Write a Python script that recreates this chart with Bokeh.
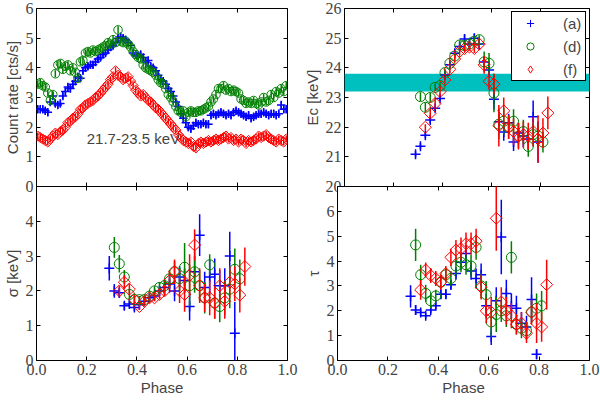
from bokeh.embed import file_html
from bokeh.layouts import column, row
from bokeh.models import (BoxAnnotation, CustomJSTickFormatter, FixedTicker, Label,
                          Legend, LegendItem, LinearAxis, PrintfTickFormatter)
from bokeh.plotting import figure
from bokeh.resources import INLINE

BLUE, GREEN, RED = "#0000ff", "#008000", "#ff0000"
SERIF = "Liberation Serif"
SANS = "Liberation Sans"

# ---- light curves (21.7-23.5 keV), 100 phase bins ----
cr_phase = [round(0.005 + 0.01 * i, 3) for i in range(100)]
cr_err = 0.12

cr_a = [2.6, 2.6, 2.6, 2.55, 2.5, 2.85, 3.05, 2.8, 2.75, 2.8,
        3.05, 3.2, 3.35, 3.3, 3.45, 3.55, 3.7, 3.65, 3.9, 4.0,
        4.05, 4.1, 4.1, 4.2, 4.3, 4.35, 4.45, 4.5, 4.6, 4.7,
        4.75, 4.85, 5.0, 5.05, 5.0, 4.95, 4.85, 4.75, 4.5, 4.45,
        4.4, 4.45, 4.35, 4.2, 4.25, 4.05, 4.0, 3.9, 3.75, 3.6,
        3.55, 3.45, 3.3, 3.2, 3.05, 2.85, 2.7, 2.45, 2.3, 2.15,
        2.0, 1.95, 2.05, 2.15, 2.1, 2.1, 2.15, 2.1, 2.1, 2.4,
        2.45, 2.4, 2.45, 2.5, 2.45, 2.4, 2.45, 2.4, 2.5, 2.55,
        2.5, 2.45, 2.4, 2.35, 2.4, 2.3, 2.35, 2.4, 2.45, 2.45,
        2.5, 2.45, 2.4, 2.45, 2.45, 2.4, 2.45, 2.75, 2.6, 2.6]

cr_d = [3.45, 3.5, 3.4, 3.35, 3.15, 2.9, 3.1, 3.8, 4.1, 4.15,
        3.95, 4.05, 4.1, 3.9, 4.0, 3.85, 3.65, 4.2, 4.25, 4.5,
        4.55, 4.5, 4.6, 4.55, 4.6, 4.65, 4.7, 4.75, 4.85, 4.8,
        4.95, 4.85, 5.28, 4.9, 4.85, 4.9, 4.8, 4.7, 4.55, 4.45,
        4.35, 4.3, 4.1, 4.0, 3.95, 3.9, 3.85, 3.75, 3.6, 3.5,
        3.45, 3.3, 3.1, 3.0, 2.85, 2.7, 2.55, 2.5, 2.55, 2.35,
        2.5, 2.55, 2.5, 2.5, 2.55, 2.55, 2.6, 2.65, 2.7, 2.85,
        2.95, 3.1, 3.3, 3.3, 3.4, 3.25, 3.3, 3.2, 3.25, 3.2,
        3.15, 2.95, 2.9, 2.8, 2.85, 2.8, 2.9, 2.8, 2.75, 2.85,
        3.0, 2.85, 2.9, 3.1, 3.0, 3.2, 3.15, 3.3, 3.2, 3.4]

cr_f = [1.7, 1.65, 1.6, 1.55, 1.5, 1.6, 1.7, 1.8, 1.75, 1.85,
        1.9, 2.0, 2.15, 2.2, 2.3, 2.35, 2.45, 2.6, 2.65, 2.75,
        2.8, 2.85, 2.9, 3.0, 3.05, 3.15, 3.25, 3.35, 3.45, 3.6,
        3.7, 3.9, 3.75, 3.7, 3.6, 3.65, 3.7, 3.55, 3.4, 3.25,
        3.15, 3.05, 3.1, 3.0, 2.9, 2.85, 2.75, 2.65, 2.6, 2.5,
        2.4, 2.3, 2.2, 2.1, 2.0, 1.9, 1.75, 1.65, 1.55, 1.5,
        1.45, 1.5, 1.35, 1.3, 1.45, 1.5, 1.45, 1.5, 1.55, 1.5,
        1.55, 1.6, 1.55, 1.6, 1.65, 1.7, 1.6, 1.65, 1.55, 1.6,
        1.5, 1.6, 1.55, 1.45, 1.55, 1.5, 1.55, 1.6, 1.7, 1.65,
        1.7, 1.75, 1.65, 1.6, 1.55, 1.5, 1.6, 1.55, 1.5, 1.6]

# ---- phase-resolved fit parameters ----
phase_a = [0.29, 0.31, 0.33, 0.35, 0.37, 0.39, 0.41, 0.43, 0.45, 0.47, 0.49, 0.51, 0.53,
           0.55, 0.57, 0.59, 0.61, 0.63, 0.65, 0.67, 0.69, 0.71, 0.73, 0.75, 0.77, 0.79]
phase_d = [0.31, 0.33, 0.35, 0.37, 0.39, 0.41, 0.43, 0.45, 0.47, 0.49, 0.51, 0.53, 0.55,
           0.57, 0.59, 0.61, 0.63, 0.65, 0.67, 0.69, 0.71, 0.73, 0.75, 0.77, 0.79, 0.81]
phase_f = [0.33, 0.35, 0.37, 0.39, 0.41, 0.43, 0.45, 0.47, 0.49, 0.51, 0.53, 0.55, 0.57,
           0.59, 0.61, 0.63, 0.65, 0.67, 0.69, 0.71, 0.73, 0.75, 0.77, 0.79, 0.81, 0.83]

ec_a = [21.09, 21.36, 21.73, 22.24, 22.64, 22.97, 23.76, 24.1, 24.49, 24.72, 24.97, 24.8, 25.0,
        24.8, 24.2, 23.93, 22.94, 22.18, 21.84, 22.15, 21.5, 21.8, 21.7, 21.6, 22.35, 21.5]
ec_a_err = [0.1, 0.1, 0.1, 0.1, 0.1, 0.1, 0.1, 0.1, 0.1, 0.1, 0.15, 0.15, 0.15,
            0.15, 0.2, 0.25, 0.35, 0.3, 0.3, 0.3, 0.3, 0.35, 0.35, 0.35, 0.55, 0.7]
ec_d = [23.03, 22.67, 23.0, 23.34, 23.4, 23.84, 24.15, 24.4, 24.77, 24.75, 24.8, 24.9, 24.95,
        24.2, 24.15, 23.15, 22.1, 22.2, 22.0, 22.2, 21.7, 21.85, 21.35, 21.75, 21.7, 21.5]
ec_d_err = [0.15, 0.15, 0.15, 0.12, 0.12, 0.12, 0.12, 0.12, 0.15, 0.15, 0.15, 0.15, 0.15,
            0.35, 0.35, 0.65, 0.5, 0.45, 0.4, 0.4, 0.4, 0.4, 0.35, 0.4, 0.4, 0.35]
ec_f = [22.0, 22.47, 22.8, 23.2, 23.59, 23.95, 24.3, 24.55, 24.65, 24.7, 24.65, 24.8, 24.1,
        23.55, 23.45, 22.05, 22.55, 22.0, 21.85, 21.7, 21.75, 21.7, 21.85, 21.6, 21.8, 22.48]
ec_f_err = [0.1, 0.15, 0.15, 0.15, 0.12, 0.12, 0.12, 0.12, 0.12, 0.12, 0.15, 0.15, 0.3,
            0.3, 0.35, 0.7, 0.45, 0.4, 0.45, 0.45, 0.45, 0.45, 0.5, 0.8, 0.5, 0.55]
band_lo, band_hi = 23.2, 23.8

sg_a = [2.65, 2.0, 1.95, 1.57, 1.62, 1.52, 1.6, 1.7, 1.8, 1.85, 2.0, 2.1, 2.2,
        2.0, 2.4, 2.3, 1.55, 2.55, 3.6, 2.1, 2.4, 2.48, 2.15, 2.15, 3.0, 0.78]
sg_a_err = [0.35, 0.2, 0.15, 0.12, 0.1, 0.1, 0.1, 0.1, 0.1, 0.12, 0.15, 0.2, 0.25,
            0.3, 0.3, 0.35, 0.4, 0.45, 0.6, 0.45, 0.5, 0.45, 0.45, 0.5, 0.7, 0.9]
sg_d = [3.25, 2.78, 2.4, 1.9, 1.75, 1.75, 1.75, 1.85, 2.0, 2.1, 2.15, 2.35, 2.55,
        2.35, 2.68, 2.15, 2.55, 2.15, 1.8, 2.75, 1.65, 1.55, 1.8, 2.05, 2.62, 2.35]
sg_d_err = [0.3, 0.25, 0.2, 0.15, 0.12, 0.1, 0.1, 0.1, 0.12, 0.15, 0.2, 0.25, 0.3,
            0.35, 0.7, 0.6, 0.6, 0.45, 0.45, 0.3, 0.45, 0.45, 0.5, 0.55, 0.6, 0.55]
sg_f = [2.0, 2.25, 2.05, 1.75, 1.55, 1.7, 1.8, 1.8, 1.9, 2.0, 2.3, 2.55, 2.0,
        1.9, 2.45, 3.32, 2.15, 1.8, 1.8, 1.65, 2.15, 1.7, 2.25, 2.2, 1.88, 2.7]
sg_f_err = [0.15, 0.2, 0.15, 0.12, 0.1, 0.1, 0.1, 0.1, 0.12, 0.15, 0.25, 0.35, 0.35,
            0.5, 0.6, 0.45, 0.5, 0.4, 0.5, 0.45, 0.5, 0.5, 0.45, 0.5, 0.5, 0.55]

ta_a = [2.58, 2.03, 1.93, 1.8, 2.03, 2.2, 2.67, 2.67, 3.05, 3.5, 3.95, 4.3, 3.6,
        3.3, 3.45, 2.2, 0.97, 2.4, 4.97, 2.7, 2.2, 2.1, 1.5, 1.35, 2.45, 0.25]
ta_a_err = [0.45, 0.2, 0.15, 0.12, 0.12, 0.15, 0.2, 0.2, 0.2, 0.25, 0.3, 0.35, 0.35,
            0.4, 0.45, 0.5, 0.35, 0.55, 1.5, 0.55, 0.5, 0.5, 0.45, 0.45, 0.9, 0.2]
ta_d = [4.65, 3.45, 2.7, 2.4, 2.6, 3.15, 3.45, 3.3, 3.8, 3.95, 3.85, 3.8, 4.55,
        3.0, 2.65, 1.55, 1.85, 2.0, 1.8, 4.15, 1.45, 1.3, 1.2, 1.95, 2.1, 2.2]
ta_d_err = [0.65, 0.4, 0.35, 0.3, 0.25, 0.25, 0.25, 0.3, 0.35, 0.4, 0.4, 0.45, 0.5,
            0.5, 0.55, 0.6, 0.7, 0.45, 0.45, 0.65, 0.4, 0.4, 0.35, 0.45, 0.6, 0.6]
ta_f = [2.84, 3.64, 3.42, 3.3, 3.15, 3.5, 4.15, 4.45, 4.5, 4.7, 4.7, 4.8, 2.95,
        2.0, 1.95, 5.72, 2.35, 2.0, 1.8, 1.45, 1.5, 1.1, 1.95, 1.5, 1.35, 3.05]
ta_f_err = [0.4, 0.3, 0.3, 0.3, 0.3, 0.3, 0.35, 0.4, 0.45, 0.45, 0.45, 0.5, 0.5,
            0.5, 0.6, 1.3, 0.6, 0.55, 0.5, 0.4, 0.45, 0.4, 0.5, 0.8, 0.6, 1.0]

phase_ticks = [0.0, 0.2, 0.4, 0.6, 0.8, 1.0]


def style_axis(ax, ticks, show_labels, fmt=None):
    ax.ticker = FixedTicker(ticks=ticks)
    ax.axis_line_color = None
    ax.major_tick_in = 4
    ax.major_tick_out = 0
    ax.major_tick_line_color = "black"
    ax.minor_tick_line_color = None
    ax.major_label_text_font = SERIF
    ax.major_label_text_font_size = "16px"
    ax.major_label_standoff = 3
    ax.axis_label_text_font = SANS
    ax.axis_label_text_font_size = "15px"
    ax.axis_label_text_font_style = "normal"
    ax.axis_label_standoff = 2
    if not show_labels:
        ax.formatter = CustomJSTickFormatter(code="return ''")
        ax.major_label_standoff = 0
    elif fmt:
        ax.formatter = PrintfTickFormatter(format=fmt)


def panel(width, height, y_range, yticks, ylabel, borders, bottom):
    left, right, top, below = borders
    p = figure(width=width, height=height, x_range=(0, 1), y_range=y_range,
               output_backend="svg", toolbar_location=None, tools="",
               min_border_left=left, min_border_right=right,
               min_border_top=top, min_border_bottom=below)
    p.grid.grid_line_color = None
    p.outline_line_color = "black"
    p.outline_line_width = 1
    style_axis(p.xaxis[0], phase_ticks, bottom, "%.1f")
    style_axis(p.yaxis[0], yticks, True)
    p.yaxis.axis_label = ylabel
    if bottom:
        p.xaxis.axis_label = "Phase"
        p.xaxis.major_label_standoff = 3
        p.xaxis.axis_label_standoff = 1
        p.border_fill_alpha = 0
    top_ax = LinearAxis()
    style_axis(top_ax, phase_ticks, False)
    p.add_layout(top_ax, "above")
    right_ax = LinearAxis()
    style_axis(right_ax, yticks, False)
    p.add_layout(right_ax, "right")
    return p


def series(p, x, y, err, color, marker, size, angle=0.0, width=1.0):
    lo = [v - e for v, e in zip(y, err)]
    hi = [v + e for v, e in zip(y, err)]
    p.segment(x0=x, y0=lo, x1=x, y1=hi, line_color=color, line_width=1.5)
    return p.scatter(x=x, y=y, marker=marker, size=size, angle=angle,
                     line_color=color, fill_color=None, line_width=width)


def three(p, ya, ea, yd, ed, yf, ef, xa, xd, xf, s=1.0):
    series(p, xa, ya, ea, BLUE, "cross", 10 * s, width=1.5)
    series(p, xd, yd, ed, GREEN, "circle", 10 * s)
    series(p, xf, yf, ef, RED, "square", 8.5 * s, angle=0.7854)


OVER = 9
TOP_H = 8 + 178 + OVER
BOT_H = 212
p_cr = panel(300, TOP_H, (0, 6), [0, 1, 2, 3, 4, 5, 6], "Count rate [cts/s]",
             (36, 13, 8, OVER), False)
p_ec = panel(300, TOP_H, (20, 26), [20, 21, 22, 23, 24, 25, 26], "E\u1d04 [keV]",
             (37, 11, 8, OVER), False)
p_sg = panel(300, BOT_H, (0, 5), [0, 1, 2, 3, 4], "\u03c3 [keV]", (36, 13, 0, 33), True)
p_ta = panel(300, BOT_H, (0, 7), [0, 1, 2, 3, 4, 5, 6], "\u03c4", (37, 11, 0, 33), True)

n = len(cr_phase)
three(p_cr, cr_a, [cr_err] * n, cr_d, [cr_err] * n, cr_f, [cr_err] * n,
      cr_phase, cr_phase, cr_phase, s=0.85)
p_cr.add_layout(Label(x=0.2, y=1.62, text="21.7-23.5 keV", text_baseline="middle",
                      text_font=SANS, text_font_size="15px"))

p_ec.add_layout(BoxAnnotation(bottom=band_lo, top=band_hi, fill_color="#00bfbf",
                              fill_alpha=1, line_color=None, level="underlay"))
three(p_ec, ec_a, ec_a_err, ec_d, ec_d_err, ec_f, ec_f_err, phase_a, phase_d, phase_f)

# hidden copies of the fit points, used only for the legend glyphs
lg_a = p_ec.scatter(x=phase_a, y=ec_a, marker="cross", line_color=BLUE, visible=False)
lg_d = p_ec.scatter(x=phase_d, y=ec_d, marker="circle", line_color=GREEN,
                    fill_color=None, visible=False)
lg_f = p_ec.scatter(x=phase_f, y=ec_f, marker="diamond", line_color=RED,
                    fill_color=None, visible=False)
legend = Legend(items=[LegendItem(label="(a)", renderers=[lg_a]),
                       LegendItem(label="(d)", renderers=[lg_d]),
                       LegendItem(label="(f)", renderers=[lg_f])],
                location="top_right", border_line_color="black", border_line_width=1.5,
                border_line_alpha=1, label_text_font=SANS, label_text_font_size="15px",
                glyph_width=32, glyph_height=18, label_height=18, label_standoff=17,
                spacing=5, padding=2, margin=3, background_fill_alpha=1)
p_ec.add_layout(legend)

three(p_sg, sg_a, sg_a_err, sg_d, sg_d_err, sg_f, sg_f_err, phase_a, phase_d, phase_f)
three(p_ta, ta_a, ta_a_err, ta_d, ta_d_err, ta_f, ta_f_err, phase_a, phase_d, phase_f)

layout = column(row(p_cr, p_ec), row(p_sg, p_ta, margin=(-OVER, 0, 0, 0)))

open("out.html", "w").write(file_html(layout, INLINE))
